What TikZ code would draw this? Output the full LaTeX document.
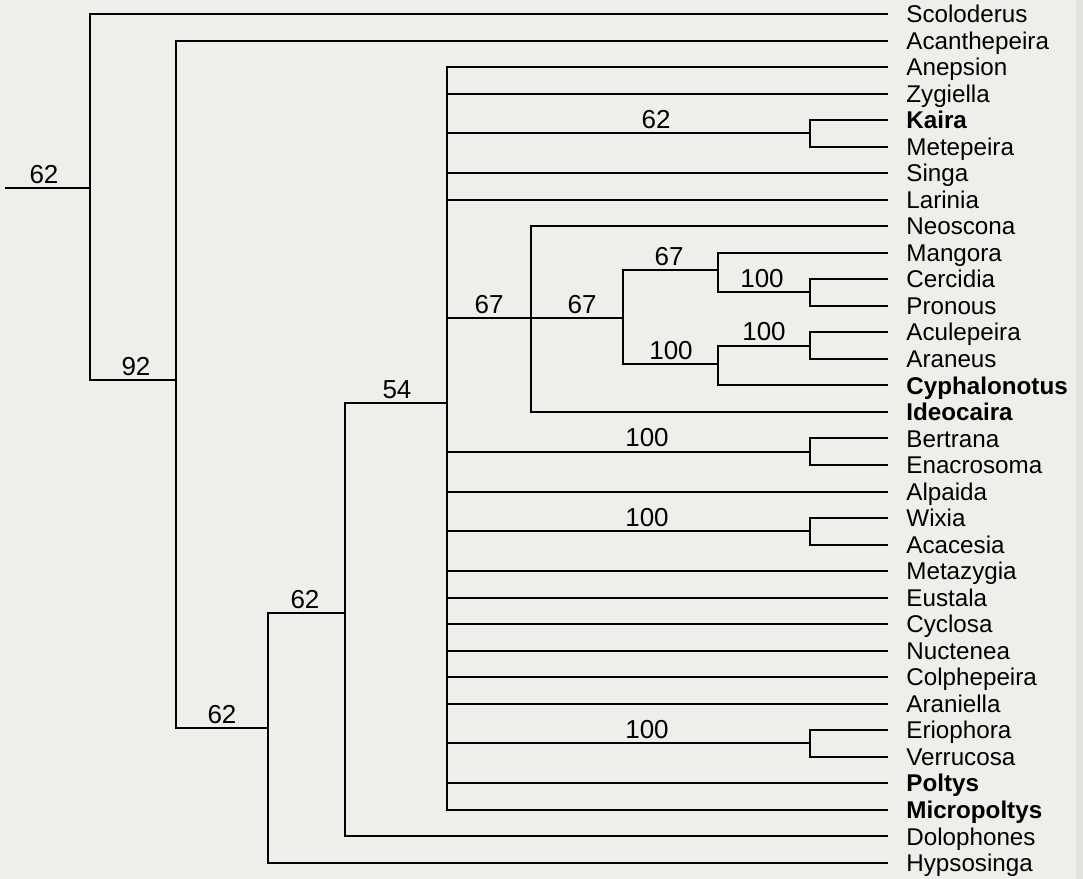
\documentclass[tikz,border=0pt]{standalone}
\usepackage{fontspec}
\setmainfont{Liberation Sans}
\definecolor{bg}{RGB}{239,238,233}
\definecolor{edge}{RGB}{226,226,223}
\begin{document}
\begin{tikzpicture}[x=0.5pt,y=-0.5pt,
  br/.style={line width=1pt, line cap=rect},
  leaf/.style={anchor=west, inner xsep=9.5pt, inner ysep=0pt, text height=8.6pt, text depth=0pt, font=\fontsize{12.1}{14}\selectfont},
  bleaf/.style={leaf, font=\fontsize{12.1}{14}\selectfont\bfseries},
  sup/.style={anchor=base, inner sep=0pt, font=\fontsize{13}{15}\selectfont}]
\fill[bg] (0,0) rectangle (1083,879);
\fill[edge] (1076,0) rectangle (1083,879);
\useasboundingbox (0,0) rectangle (1083,879);

% leaves
\foreach \n/\i/\s in {Scoloderus/0/leaf, Acanthepeira/1/leaf, Anepsion/2/leaf, Zygiella/3/leaf,
  Kaira/4/bleaf, Metepeira/5/leaf, Singa/6/leaf, Larinia/7/leaf, Neoscona/8/leaf, Mangora/9/leaf,
  Cercidia/10/leaf, Pronous/11/leaf, Aculepeira/12/leaf, Araneus/13/leaf, Cyphalonotus/14/bleaf,
  Ideocaira/15/bleaf, Bertrana/16/leaf, Enacrosoma/17/leaf, Alpaida/18/leaf, Wixia/19/leaf,
  Acacesia/20/leaf, Metazygia/21/leaf, Eustala/22/leaf, Cyclosa/23/leaf, Nuctenea/24/leaf,
  Colphepeira/25/leaf, Araniella/26/leaf, Eriophora/27/leaf, Verrucosa/28/leaf, Poltys/29/bleaf,
  Micropoltys/30/bleaf, Dolophones/31/leaf, Hypsosinga/32/leaf}
  \node[\s] (\n) at (887,{14+26.53*\i}) {\n};

% internal nodes
\coordinate (stub) at (6,188);
\coordinate (nR) at (90,188);
\coordinate (n92) at (176,380);
\coordinate (n62a) at (268,728);
\coordinate (n62b) at (345,613);
\coordinate (n54) at (447,403);
\coordinate (nKai) at (810,133);
\coordinate (n67a) at (531,318);
\coordinate (n67b) at (623,318);
\coordinate (nMan) at (718,270);
\coordinate (nCer) at (810,292);
\coordinate (n100c) at (718,364);
\coordinate (nAcu) at (810,345.5);
\coordinate (nBer) at (810,451.7);
\coordinate (nWix) at (810,531.3);
\coordinate (nEri) at (810,743.4);

% branches
\draw[br] (stub) -- (nR);
\foreach \p/\c in {nR/Scoloderus.west, nR/n92,
  n92/Acanthepeira.west, n92/n62a,
  n62a/n62b, n62a/Hypsosinga.west,
  n62b/n54, n62b/Dolophones.west,
  n54/Anepsion.west, n54/Zygiella.west, n54/nKai, n54/Singa.west, n54/Larinia.west,
  n54/n67a, n54/nBer, n54/Alpaida.west, n54/nWix, n54/Metazygia.west, n54/Eustala.west,
  n54/Cyclosa.west, n54/Nuctenea.west, n54/Colphepeira.west, n54/Araniella.west,
  n54/nEri, n54/Poltys.west, n54/Micropoltys.west,
  nKai/Kaira.west, nKai/Metepeira.west,
  n67a/Neoscona.west, n67a/n67b, n67a/Ideocaira.west,
  n67b/nMan, n67b/n100c,
  nMan/Mangora.west, nMan/nCer,
  nCer/Cercidia.west, nCer/Pronous.west,
  n100c/nAcu, n100c/Cyphalonotus.west,
  nAcu/Aculepeira.west, nAcu/Araneus.west,
  nBer/Bertrana.west, nBer/Enacrosoma.west,
  nWix/Wixia.west, nWix/Acacesia.west,
  nEri/Eriophora.west, nEri/Verrucosa.west}
  \draw[br] (\p) |- (\c);

% support values
\foreach \k/\x/\y/\t in {s1/44/188/62, s2/136/380/92, s3/222/728/62, s4/305/613/62,
  s5/397/403/54, s6/489/318/67, s7/582/318/67, s8/669/270/67, s9/762/292/100,
  s10/764/345.5/100, s11/671/364/100, s12/656/133/62, s13/647/451.7/100,
  s14/647/531.3/100, s15/647/743.4/100}
  \node[sup] (\k) at (\x,{\y-5}) {\t};
\end{tikzpicture}
\end{document}
